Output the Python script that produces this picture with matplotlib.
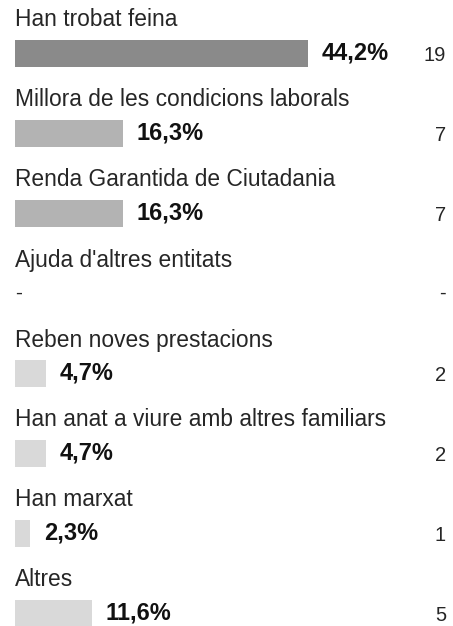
import matplotlib
matplotlib.use("Agg")
import matplotlib.pyplot as plt

categories = [
    "Han trobat feina",
    "Millora de les condicions laborals",
    "Renda Garantida de Ciutadania",
    "Ajuda d'altres entitats",
    "Reben noves prestacions",
    "Han anat a viure amb altres familiars",
    "Han marxat",
    "Altres",
]
percentages = [44.2, 16.3, 16.3, None, 4.7, 4.7, 2.3, 11.6]
counts = [19, 7, 7, None, 2, 2, 1, 5]
bar_colors = ["#8a8a8a", "#b3b3b3", "#b3b3b3", "#d9d9d9",
              "#d9d9d9", "#d9d9d9", "#d9d9d9", "#d9d9d9"]

W, H = 453, 626
DPI = 100
plt.rcParams["font.family"] = ["Liberation Sans", "DejaVu Sans"]

fig = plt.figure(figsize=(W / DPI, H / DPI), dpi=DPI)
ax = fig.add_axes([0, 0, 1, 1])

# horizontal scale: bars start 15 px from the left edge, ~6.63 px per percent
px_per_pct = 6.63
left_px = 15
ax.set_xlim(-left_px / px_per_pct, (W - left_px) / px_per_pct)
# vertical scale: one row unit = 80 px
row_px = 80
ax.set_ylim(H / row_px, 0)
ax.axis("off")

title_off = 0.25
bar_off = 0.665
bar_h = 27 / row_px
x_count = (W - 7 - left_px) / px_per_pct
x_title = 0
text_col = "#262626"

for i, (cat, pct, cnt, col) in enumerate(zip(categories, percentages, counts, bar_colors)):
    yt = i + title_off
    yb = i + bar_off
    ax.text(x_title, yt, cat, fontsize=16.4, color=text_col,
            ha="left", va="center")
    if pct is None:
        ax.text(x_title, yb, "-", fontsize=15, color=text_col,
                ha="left", va="center")
        ax.text(x_count, yb, "-", fontsize=14.5, color=text_col,
                ha="right", va="center")
        continue
    ax.barh(yb, pct, height=bar_h, left=0, color=col, edgecolor="none")
    ax.annotate(f"{pct:.1f}%".replace(".", ","), xy=(pct, yb),
                xytext=(10, 0), textcoords="offset points",
                fontsize=17, fontweight="bold", color="#111111",
                ha="left", va="center")
    ax.annotate(str(cnt), xy=(x_count, yb), xytext=(0, -1.5),
                textcoords="offset points", fontsize=14.5, color=text_col,
                ha="right", va="center")

fig.savefig("out.png", dpi=DPI)
